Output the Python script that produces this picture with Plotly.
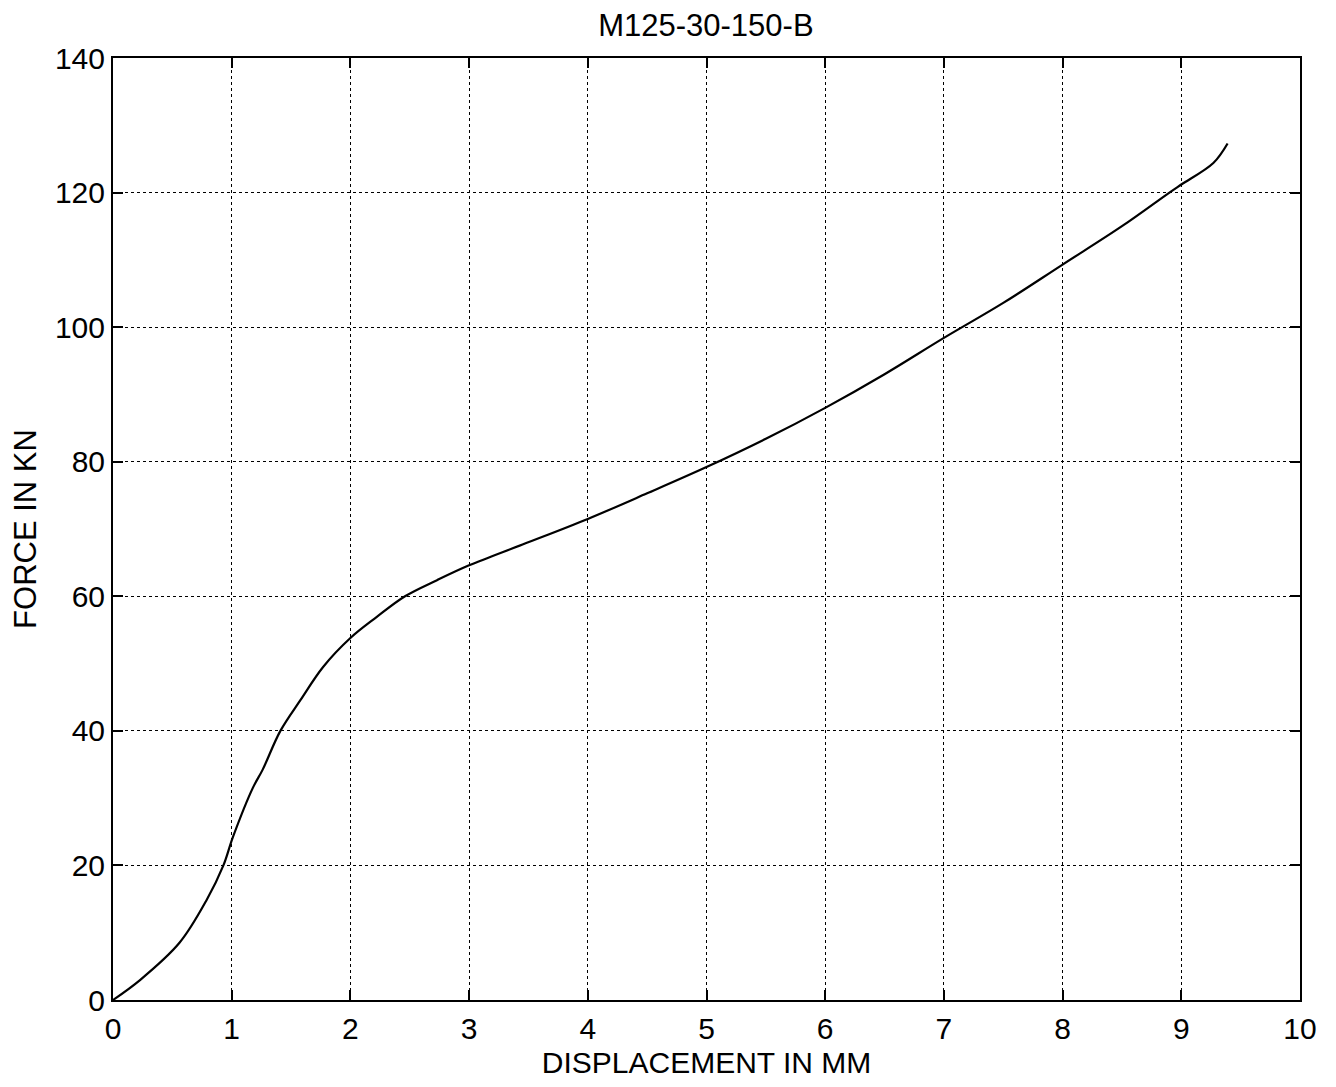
import plotly.graph_objects as go

displacement_mm = [0, 0.23, 0.56, 0.79, 0.93, 1.01, 1.18, 1.26, 1.41, 1.58, 1.77, 2.0, 2.22,
                   2.46, 2.73, 3.0, 3.45, 4.0, 4.5, 5.0, 5.5, 6.0, 6.5, 7.0, 7.5,
                   8.0, 8.5, 8.9, 9.0, 9.27, 9.39]
force_kn = [0, 3.0, 8.5, 14.9, 20.0, 24.2, 31.6, 34.2, 40.0, 44.6, 49.5, 53.8, 56.9,
            60.0, 62.4, 64.6, 67.7, 71.5, 75.3, 79.2, 83.4, 88.0, 93.0, 98.4, 103.6,
            109.3, 115.0, 120.0, 121.2, 124.4, 127.3]

x_ticks = list(range(0, 11))
y_ticks = list(range(0, 141, 20))

FONT = "Liberation Sans, Arial, sans-serif"

fig = go.Figure()
fig.add_trace(go.Scatter(x=displacement_mm, y=force_kn, mode="lines",
                         line=dict(color="black", width=2.2), line_shape="spline",
                         showlegend=False))

axis_common = dict(showline=True, linecolor="black", linewidth=2, mirror="allticks",
                   ticks="inside", ticklen=10, tickcolor="black", tickwidth=1.5,
                   showgrid=True, gridcolor="black", gridwidth=1, griddash="dot",
                   zeroline=False, automargin=False,
                   tickfont=dict(family=FONT, size=30, color="black"))

fig.update_layout(
    width=1320, height=1071,
    margin=dict(l=105, r=28, t=50, b=79),
    paper_bgcolor="white", plot_bgcolor="white",
    font=dict(family=FONT, size=30, color="black"),
    title=dict(text="M125-30-150-B", x=0.5287, xanchor="center", y=0.984, yanchor="middle",
               font=dict(family=FONT, size=31, color="black")),
    xaxis=dict(range=[0, 10], tickvals=x_ticks, ticktext=[str(v) for v in x_ticks],
               ticklabelstandoff=1,
               title=dict(text="DISPLACEMENT IN MM", standoff=9,
                          font=dict(family=FONT, size=30, color="black")),
               **axis_common),
    yaxis=dict(range=[0, 140], tickvals=y_ticks, ticktext=[str(v) for v in y_ticks],
               title=dict(text="FORCE IN KN", standoff=10,
                          font=dict(family=FONT, size=31, color="black")),
               **axis_common),
)

fig.write_html("out.html")
